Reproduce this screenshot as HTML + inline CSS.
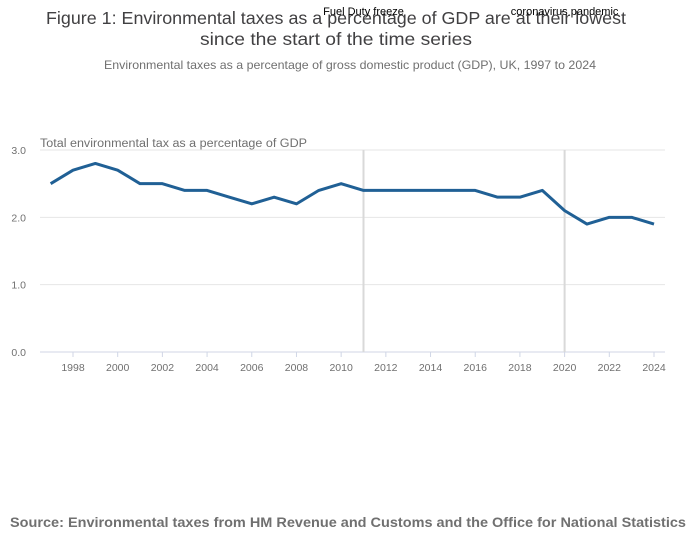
<!DOCTYPE html>
<html><head><meta charset="utf-8"><style>
body{margin:0;width:700px;height:549px;background:#fff;overflow:hidden;font-family:"Liberation Sans",sans-serif}
svg{position:absolute;left:0;top:0}
</style></head><body>
<svg width="700" height="549" id="c">
<text x="336" y="24" font-size="17.5" fill="#414042" text-anchor="middle" textLength="580" lengthAdjust="spacingAndGlyphs">Figure 1: Environmental taxes as a percentage of GDP are at their lowest</text>
<text x="336" y="45" font-size="17.5" fill="#414042" text-anchor="middle" textLength="272" lengthAdjust="spacingAndGlyphs">since the start of the time series</text>
<text x="350" y="69" font-size="12" fill="#707070" text-anchor="middle" textLength="492" lengthAdjust="spacingAndGlyphs">Environmental taxes as a percentage of gross domestic product (GDP), UK, 1997 to 2024</text>
<text x="40" y="147" font-size="11.5" fill="#707070" textLength="267" lengthAdjust="spacingAndGlyphs">Total environmental tax as a percentage of GDP</text>
<text x="10" y="527" font-size="13.5" font-weight="bold" fill="#707070" textLength="676" lengthAdjust="spacingAndGlyphs">Source: Environmental taxes from HM Revenue and Customs and the Office for National Statistics</text>
<g id="grid"></g><g id="ann"></g><g id="xt"></g><path id="ln" fill="none" stroke="#206095" stroke-width="3" stroke-linejoin="round"/>
</svg>
<script>
const years=[1997,1998,1999,2000,2001,2002,2003,2004,2005,2006,2007,2008,2009,2010,2011,2012,2013,2014,2015,2016,2017,2018,2019,2020,2021,2022,2023,2024];
const values=[2.5,2.7,2.8,2.7,2.5,2.5,2.4,2.4,2.3,2.2,2.3,2.2,2.4,2.5,2.4,2.4,2.4,2.4,2.4,2.4,2.3,2.3,2.4,2.1,1.9,2.0,2.0,1.9];
const yTicks=[0,1,2,3];
const yTickLabels=["0.0","1.0","2.0","3.0"];
const xTicks=[1998,2000,2002,2004,2006,2008,2010,2012,2014,2016,2018,2020,2022,2024];
const annYears=[2011,2020];
const annLabels=["Fuel Duty freeze","coronavirus pandemic"];
const X=y=>73+(y-1998)*(654-73)/26;
const Y=v=>352-v*(352-150)/3;
const NS="http://www.w3.org/2000/svg";
function mk(t,a,p){const e=document.createElementNS(NS,t);for(const k in a)e.setAttribute(k,a[k]);p.appendChild(e);return e;}
const g=document.getElementById('grid');
yTicks.forEach((v,i)=>{
 const l=mk('line',{x1:40,x2:665,y1:Y(v),y2:Y(v),stroke:v===0?'#d0d6e6':'#e6e6e6','stroke-width':1},g);
 
 
 const t=mk('text',{x:26,y:Y(v)+4,'font-size':10.5,fill:'#707070','text-anchor':'end'},g);t.textContent=yTickLabels[i];
 
 
});
const xt=document.getElementById('xt');
xTicks.forEach(y=>{
 const l=mk('line',{x1:X(y),x2:X(y),y1:352,y2:357,stroke:'#d0d6e6'},xt);
 
 
 const t=mk('text',{x:X(y),y:371,'font-size':10.5,fill:'#707070','text-anchor':'middle'},xt);t.textContent=y;
 
 
});
const an=document.getElementById('ann');
annYears.forEach((y,i)=>{
 const l=mk('line',{x1:X(y),x2:X(y),y1:150,y2:352,stroke:'#d9d9d9','stroke-width':2},an);
 
 
 const t=mk('text',{x:X(y),y:15,'font-size':11,fill:'#000','text-anchor':'middle'},an);t.textContent=annLabels[i];
 
 
});
document.getElementById('ln').setAttribute('d',years.map((y,i)=>(i?'L':'M')+X(y)+','+Y(values[i])).join(''));
</script>
</body></html>
